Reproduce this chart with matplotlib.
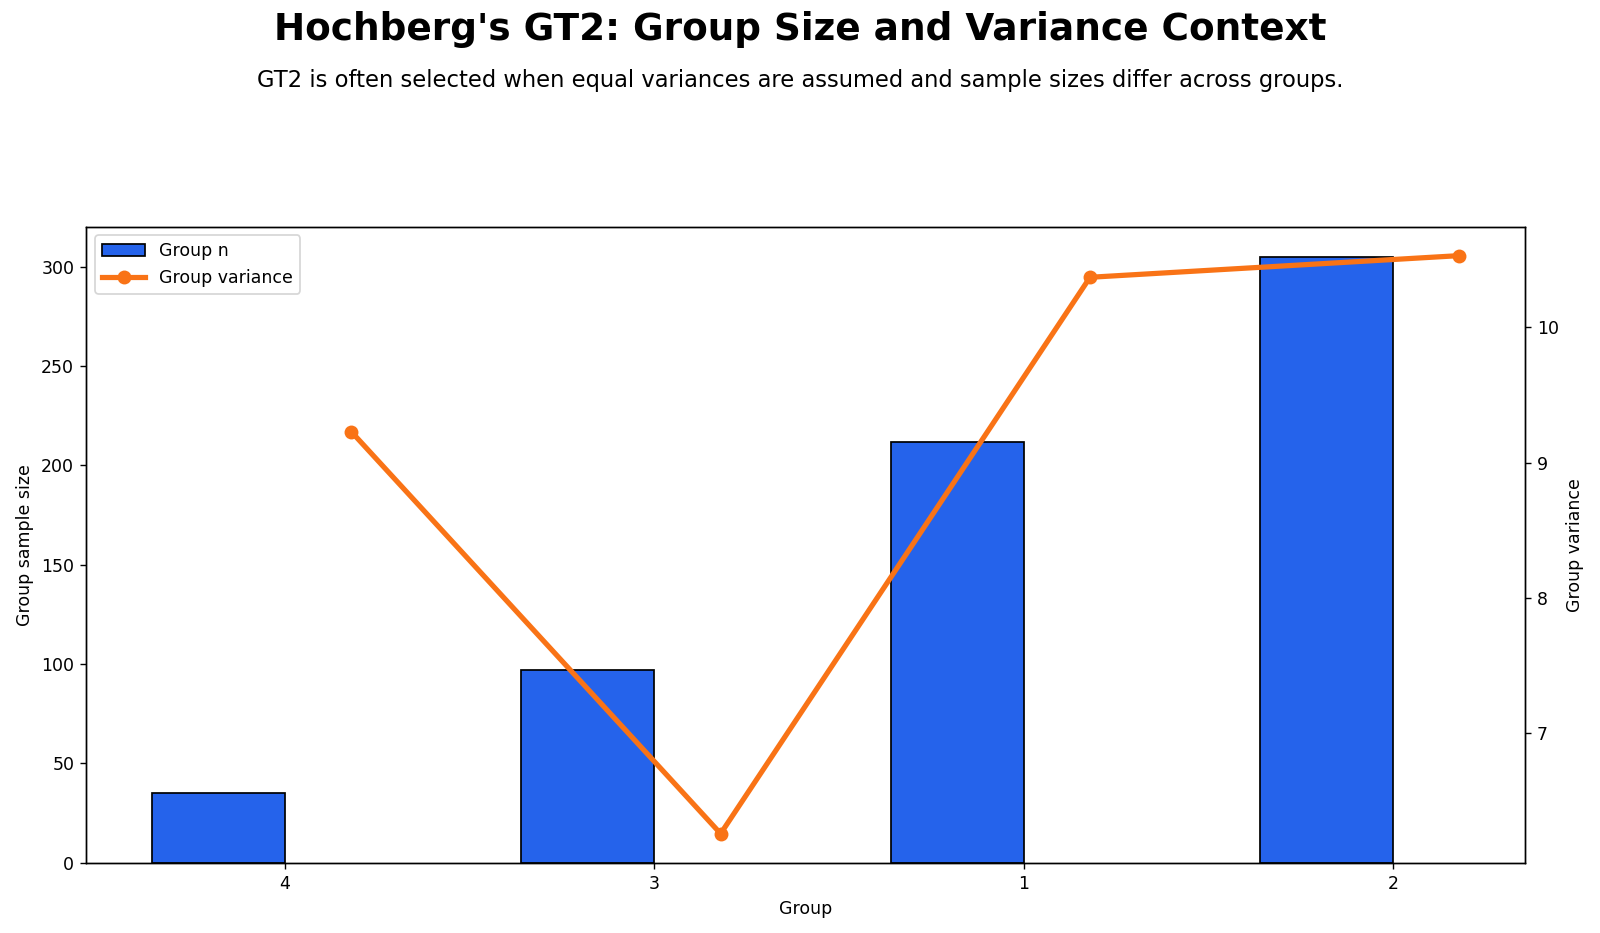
import matplotlib.pyplot as plt
import numpy as np

groups = ["4", "3", "1", "2"]
group_n = [35, 97, 212, 305]
group_var = [9.23, 6.26, 10.37, 10.53]

fig, ax = plt.subplots(figsize=(12.8, 7.464), dpi=125)
fig.subplots_adjust(left=0.054, right=0.953, top=0.757, bottom=0.0755)

x = np.arange(len(groups))
width = 0.36

bars = ax.bar(x - width / 2, group_n, width, color="#2563EB", edgecolor="black",
              linewidth=1, label="Group n")
ax.set_xticks(x)
ax.set_xticklabels(groups)
ax.set_xlabel("Group")
ax.set_ylabel("Group sample size")

ax2 = ax.twinx()
line, = ax2.plot(x + width / 2, group_var, color="#F97316", linewidth=3,
                 marker="o", markersize=7, label="Group variance")
ax2.set_ylabel("Group variance")

ax.legend([bars, line], ["Group n", "Group variance"], loc="upper left",
          handlelength=2.5)

fig.text(0.5, 0.968, "Hochberg's GT2: Group Size and Variance Context",
         ha="center", va="center", fontsize=21.5, fontweight="bold")
fig.text(0.5, 0.914,
         "GT2 is often selected when equal variances are assumed and sample sizes differ across groups.",
         ha="center", va="center", fontsize=13)

fig.savefig("out.png", dpi=125)
